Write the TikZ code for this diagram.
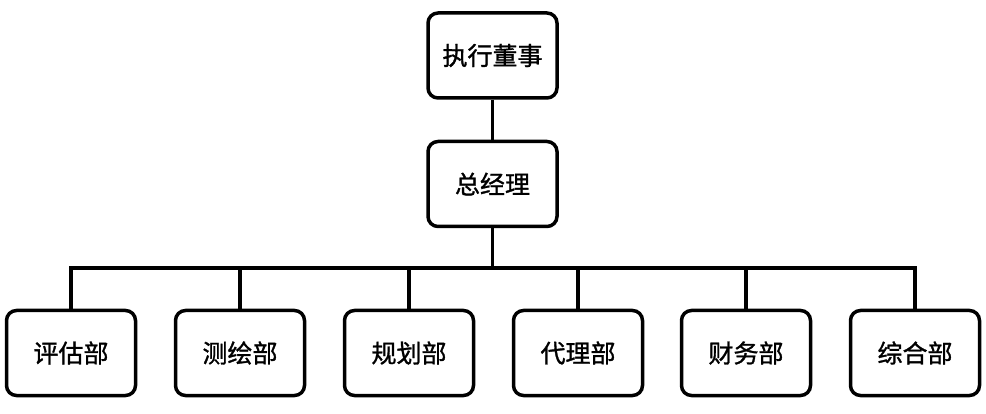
\documentclass[tikz,border=0pt]{standalone}
\usepackage{fontspec}
\newfontfamily\cjk[FakeBold=1.2]{Noto Sans CJK SC}
\begin{document}
\begin{tikzpicture}[x=1pt,y=-1pt,
  orgbox/.style={draw=black, line width=3.5pt, rounded corners=10pt, minimum width=129pt, minimum height=85pt, inner sep=0pt, font=\cjk\fontsize{25}{30}\selectfont, fill=white},
  link/.style={line width=3.5pt}]
\useasboundingbox (0,0) rectangle (986,414);
\node[orgbox] (ceo) at (492.5,55.5) {执行董事};
\node[orgbox] (gm) at (492.5,184) {总经理};
\coordinate (bar) at (492.5,268);
\foreach \n/\x/\t in {d1/71/评估部, d2/240/测绘部, d3/409/规划部, d4/578/代理部, d5/746/财务部, d6/915/综合部}{
  \node[orgbox] (\n) at (\x,353) {\t};
}
\draw[link] (ceo) -- (gm);
\draw[link] (gm.south) -- (bar);
\draw[link] (d1.north) |- (bar) -| (d6.north);
\foreach \n in {d2,d3,d4,d5}{
  \draw[link] (\n.north) -- (\n.north |- bar);
}
\end{tikzpicture}
\end{document}
